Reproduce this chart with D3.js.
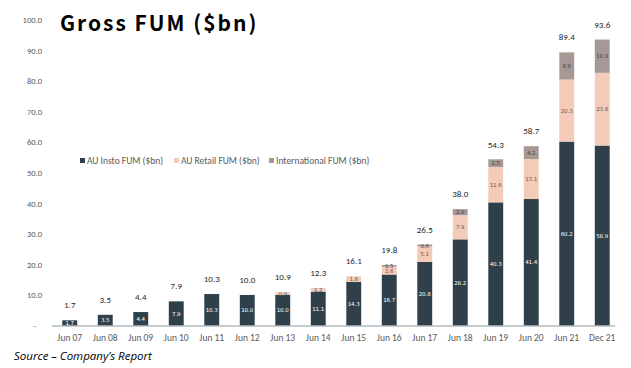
<!DOCTYPE html>
<html>
<head>
<meta charset="utf-8">
<script src="https://cdn.jsdelivr.net/npm/d3@7"></script>
<style>
  body { margin: 0; background: #fff; }
  svg { display: block; }
</style>
</head>
<body>
<div id="chart"></div>
<script>
// Gross FUM stacked bars

var categories = ["Jun 07","Jun 08","Jun 09","Jun 10","Jun 11","Jun 12","Jun 13","Jun 14",
                  "Jun 15","Jun 16","Jun 17","Jun 18","Jun 19","Jun 20","Jun 21","Dec 21"];
var instoFUM  = [1.7, 3.5, 4.4, 7.9, 10.3, 10.0, 10.0, 11.1, 14.3, 16.7, 20.8, 28.2, 40.3, 41.4, 60.2, 58.9];
var retailFUM = [0, 0, 0, 0, 0, 0, 0.9, 1.2, 1.8, 2.6, 5.1, 7.9, 11.6, 13.1, 20.3, 23.8];
var intlFUM   = [0, 0, 0, 0, 0, 0, 0, 0, 0, 0.5, 0.6, 2.0, 2.5, 4.2, 8.9, 10.9];
var totals    = [1.7, 3.5, 4.4, 7.9, 10.3, 10.0, 10.9, 12.3, 16.1, 19.8, 26.5, 38.0, 54.3, 58.7, 89.4, 93.6];
var seriesNames = ["AU Insto FUM ($bn)", "AU Retail FUM ($bn)", "International FUM ($bn)"];
var yTicks = [0, 10, 20, 30, 40, 50, 60, 70, 80, 90, 100];

var width = 631,
    height = 368,
    margin = {"top": 20, "right": 11, "bottom": 42, "left": 52};

var colors = ["#2f404b", "#f4cbb8", "#a69995"];
var labelColors = ["#ffffff", "#595959", "#404040"];
var bodyFont = "Calibri, Carlito, Lato, sans-serif";

var table = categories.map((c, i) => ({
    cat: c, insto: instoFUM[i], retail: retailFUM[i], intl: intlFUM[i], total: totals[i]
}));
var keys = ["insto", "retail", "intl"];
var stacked = d3.stack().keys(keys)(table);

var svg = d3.select("#chart").append("svg")
    .attr("width", width)
    .attr("height", height);

var x = d3.scaleBand()
    .domain(categories)
    .range([margin.left, width - margin.right])
    .paddingInner(0.58)
    .paddingOuter(0.29);

var y = d3.scaleLinear()
    .domain([0, 100])
    .range([height - margin.bottom - 0.5, margin.top]);

// y axis labels, no line
var yAxis = svg.append("g")
    .attr("transform", "translate(42,0)")
    .call(d3.axisLeft(y).tickValues(yTicks).tickSize(0).tickPadding(0)
        .tickFormat(d => d === 0 ? "-" : d3.format(".1f")(d)));
yAxis.select(".domain").remove();
yAxis.selectAll("text")
    .attr("fill", "#595959")
    .attr("font-family", bodyFont)
    .attr("font-size", 8.5)
    .attr("dx", d => d === 0 ? -6 : 0);

// stacked bars
var layer = svg.selectAll(".layer")
    .data(stacked)
  .enter().append("g")
    .attr("class", "layer")
    .attr("fill", (d, i) => colors[i]);

layer.selectAll("rect")
    .data(d => d)
  .enter().append("rect")
    .attr("x", d => x(d.data.cat))
    .attr("y", d => y(d[1]))
    .attr("width", x.bandwidth())
    .attr("height", d => y(d[0]) - y(d[1]));

// values inside segments
layer.each(function(s, si) {
    d3.select(this).selectAll("text")
        .data(s.filter(d => d[1] - d[0] > 0))
      .enter().append("text")
        .attr("x", d => x(d.data.cat) + x.bandwidth() / 2)
        .attr("y", d => (y(d[0]) + y(d[1])) / 2 + 2.2)
        .attr("text-anchor", "middle")
        .attr("font-family", "'DejaVu Sans', sans-serif")
        .attr("font-size", 5.5)
        .attr("fill", labelColors[si])
        .text(d => d3.format(".1f")(d[1] - d[0]));
});

// totals above bars
svg.append("g").selectAll("text")
    .data(table)
  .enter().append("text")
    .attr("x", d => x(d.cat) + x.bandwidth() / 2)
    .attr("y", d => y(d.total) - 12)
    .attr("text-anchor", "middle")
    .attr("font-family", bodyFont)
    .attr("font-size", 9)
    .attr("fill", "#262626")
    .text(d => d3.format(".1f")(d.total));

// x axis
var xAxis = svg.append("g")
    .attr("transform", "translate(0," + (height - margin.bottom) + ")")
    .call(d3.axisBottom(x).tickSize(0).tickPadding(8));
xAxis.select(".domain")
    .attr("stroke", "#8c9aa2")
    .attr("stroke-width", 1.2)
    .attr("d", "M" + margin.left + ",0H" + (width - 16));
xAxis.selectAll("text")
    .attr("fill", "#595959")
    .attr("font-family", bodyFont)
    .attr("font-size", 9.5);

// title
svg.append("text")
    .attr("x", 60)
    .attr("y", 31)
    .attr("font-family", "'Noto Sans CJK JP', sans-serif")
    .attr("font-weight", 700)
    .attr("font-size", 21)
    .attr("letter-spacing", 2)
    .attr("fill", "#000")
    .text("Gross FUM ($bn)");

// legend
var legendX = [80, 174, 269];
var legend = svg.append("g").selectAll("g")
    .data(seriesNames)
  .enter().append("g")
    .attr("transform", (d, i) => "translate(" + legendX[i] + ",158)");
legend.append("rect")
    .attr("width", 5).attr("height", 5)
    .attr("fill", (d, i) => colors[i]);
legend.append("text")
    .attr("x", 7)
    .attr("y", 5.5)
    .attr("font-family", bodyFont)
    .attr("font-size", 9.5)
    .attr("fill", "#595959")
    .text(d => d);

// source note
svg.append("text")
    .attr("x", 14)
    .attr("y", 360)
    .attr("font-family", "'Open Sans', sans-serif")
    .attr("font-style", "italic")
    .attr("font-size", 11.5)
    .attr("fill", "#000")
    .text("Source \u2013 Company\u2019s Report");
</script>
</body>
</html>
